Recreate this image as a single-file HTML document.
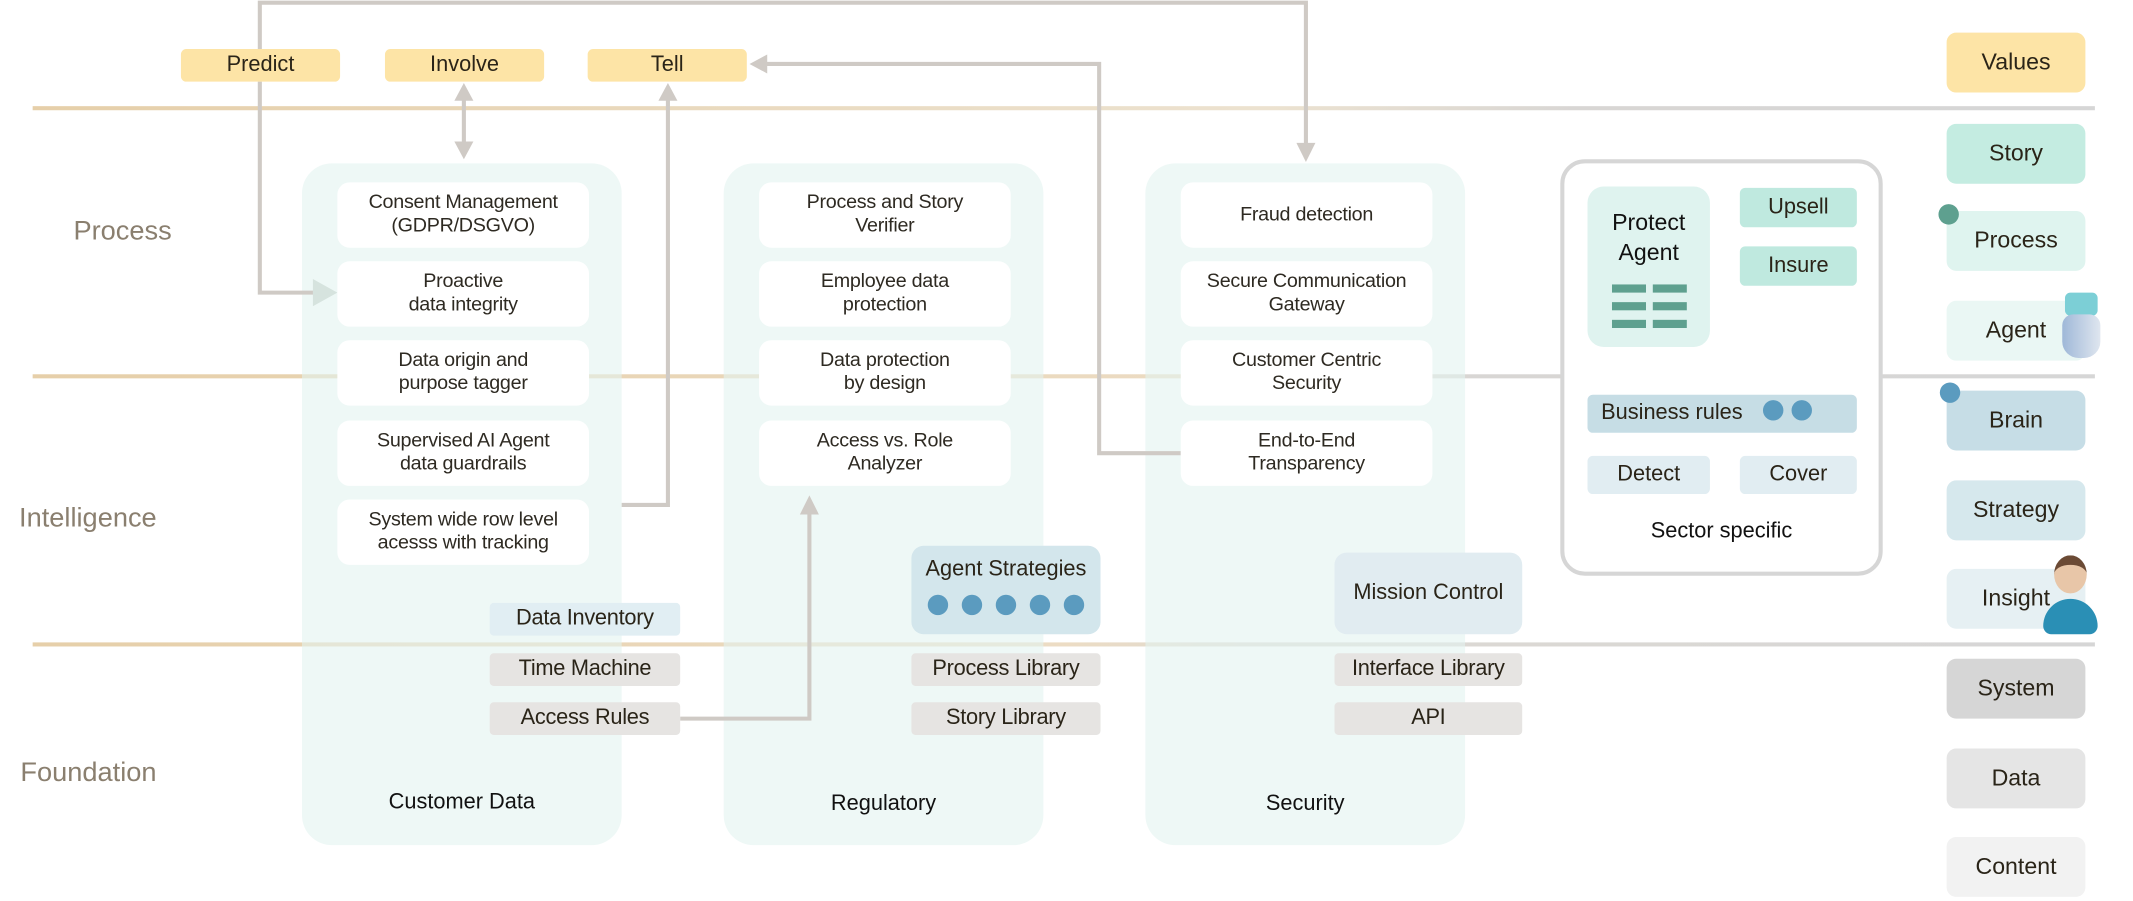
<!DOCTYPE html>
<html><head><meta charset="utf-8"><style>
html,body{margin:0;padding:0;background:#fff;}
body{width:2133px;height:901px;overflow:hidden;position:relative;}
#s{position:absolute;left:0;top:0;width:1568px;height:662px;transform:scale(1.36033,1.361);transform-origin:0 0;font-family:"Liberation Sans",sans-serif;color:#2a2418;}
.a{position:absolute;box-sizing:border-box;display:flex;align-items:center;justify-content:center;text-align:center;}
.hl{position:absolute;height:3px;}
.col{position:absolute;top:120px;width:235px;height:501px;background:rgba(226,244,240,0.6);border-radius:22px;}
.card{position:absolute;width:185px;height:48px;background:#fff;border-radius:9px;font-size:14.5px;line-height:17px;letter-spacing:-0.2px;color:#2e2a22;}
.lab{font-size:20px;color:#8a7f6f;}
.val{background:#fde4a6;border-radius:4px;font-size:16px;height:24px;width:117px;top:36px;}
.tag{width:140px;height:24px;border-radius:3px;font-size:16px;letter-spacing:-0.2px;}
.r{left:1431px;width:102px;height:44px;border-radius:7px;font-size:17px;}
.ttl{font-size:16px;color:#111;}
.dot{display:inline-block;width:15px;height:15px;border-radius:50%;background:#5b9bbf;margin:0 5px;}
</style></head><body><div id="s">

<div class="hl" style="left:24px;top:78px;width:1516px;background:linear-gradient(90deg,#e6cfa9,#ece2d0 60%,#d8d6d4 75%,#d6d6d6);"></div>
<div class="hl" style="left:24px;top:275px;width:1516px;background:linear-gradient(90deg,#e6cfa9,#ecdcc4 60%,#d8d6d4 70%,#d6d6d6);"></div>
<div class="hl" style="left:24px;top:472px;width:1516px;background:linear-gradient(90deg,#e6cfa9,#ecdcc4 50%,#ddd9d3 60%,#d6d6d6);"></div>

<div class="a lab" style="left:20px;top:158px;width:150px;height:24px;justify-content:flex-start;padding-left:34px;">Process</div>
<div class="a lab" style="left:14px;top:369px;width:150px;height:24px;justify-content:flex-start;">Intelligence</div>
<div class="a lab" style="left:15px;top:556px;width:150px;height:24px;justify-content:flex-start;">Foundation</div>

<div class="col" style="left:222px;"></div>
<div class="col" style="left:532px;"></div>
<div class="col" style="left:842px;"></div>

<svg style="position:absolute;left:0;top:0" width="1568" height="662">
<g fill="none" stroke="#cfcac5" stroke-width="3">
<polyline points="191,36 191,2 960,2 960,108"/>
<polyline points="191,60 191,215 232,215"/>
<line x1="341" y1="72" x2="341" y2="108"/>
<polyline points="457,371 491,371 491,70"/>
<polyline points="560,47 808,47 808,333 868,333"/>
<polyline points="500,528 595,528 595,375"/>
</g>
<g fill="#cfcac5">
<polygon points="953,105 967,105 960,119"/>
<polygon points="334,74 348,74 341,61"/>
<polygon points="334,104 348,104 341,117"/>
<polygon points="484,74 498,74 491,61"/>
<polygon points="564,40 564,54 551,47"/>
<polygon points="588,378 602,378 595,364"/>
</g>
<polygon points="230,205 230,225 248,215" fill="#d6e3de"/>
</svg>

<div class="a val" style="left:133px;">Predict</div>
<div class="a val" style="left:283px;">Involve</div>
<div class="a val" style="left:432px;">Tell</div>

<div class="a card" style="left:248px;top:134px;">Consent Management<br>(GDPR/DSGVO)</div>
<div class="a card" style="left:248px;top:192px;">Proactive<br>data integrity</div>
<div class="a card" style="left:248px;top:250px;">Data origin and<br>purpose tagger</div>
<div class="a card" style="left:248px;top:309px;">Supervised AI Agent<br>data guardrails</div>
<div class="a card" style="left:248px;top:367px;">System wide row level<br>acesss with tracking</div>

<div class="a card" style="left:558px;top:134px;">Process and Story<br>Verifier</div>
<div class="a card" style="left:558px;top:192px;">Employee data<br>protection</div>
<div class="a card" style="left:558px;top:250px;">Data protection<br>by design</div>
<div class="a card" style="left:558px;top:309px;">Access vs. Role<br>Analyzer</div>

<div class="a card" style="left:868px;top:134px;">Fraud detection</div>
<div class="a card" style="left:868px;top:192px;">Secure Communication<br>Gateway</div>
<div class="a card" style="left:868px;top:250px;">Customer Centric<br>Security</div>
<div class="a card" style="left:868px;top:309px;">End-to-End<br>Transparency</div>

<div class="a tag" style="left:360px;top:443px;background:#e1eef3;">Data Inventory</div>
<div class="a tag" style="left:360px;top:480px;background:#e6e4e2;">Time Machine</div>
<div class="a tag" style="left:360px;top:516px;background:#e6e4e2;">Access Rules</div>
<div class="a tag" style="left:670px;top:480px;width:139px;background:#e6e4e2;">Process Library</div>
<div class="a tag" style="left:670px;top:516px;width:139px;background:#e6e4e2;">Story Library</div>
<div class="a tag" style="left:981px;top:480px;width:138px;background:#e6e4e2;">Interface Library</div>
<div class="a tag" style="left:981px;top:516px;width:138px;background:#e6e4e2;">API</div>
<div class="a" style="left:670px;top:401px;width:139px;height:65px;background:#d3e6ec;border-radius:9px;flex-direction:column;font-size:16px;">
<div style="margin-bottom:9px;">Agent Strategies</div><div><span class="dot"></span><span class="dot"></span><span class="dot"></span><span class="dot"></span><span class="dot"></span></div></div>
<div class="a" style="left:981px;top:406px;width:138px;height:60px;background:#e1ecf1;border-radius:9px;font-size:16px;">Mission Control</div>

<div class="a ttl" style="left:222px;top:580px;width:235px;height:20px;">Customer Data</div>
<div class="a ttl" style="left:532px;top:581px;width:235px;height:20px;">Regulatory</div>
<div class="a ttl" style="left:842px;top:581px;width:235px;height:20px;">Security</div>

<div style="position:absolute;left:1147px;top:117px;width:237px;height:306px;box-sizing:border-box;border:3px solid #d6d6d6;border-radius:18px;background:#fff;"></div>
<div class="a" style="left:1167px;top:137px;width:90px;height:118px;background:#dff3ef;border-radius:12px;flex-direction:column;justify-content:flex-start;padding-top:16px;font-size:17px;line-height:22px;color:#111;">
<div>Protect<br>Agent</div>
<div style="margin-top:12px;display:grid;grid-template-columns:25px 25px;gap:7px 5px;">
<div style="height:6px;background:#5ea08f"></div><div style="height:6px;background:#5ea08f"></div>
<div style="height:6px;background:#5ea08f"></div><div style="height:6px;background:#5ea08f"></div>
<div style="height:6px;background:#5ea08f"></div><div style="height:6px;background:#5ea08f"></div></div></div>
<div class="a" style="left:1279px;top:138px;width:86px;height:29px;background:#bfe9df;border-radius:4px;font-size:16px;">Upsell</div>
<div class="a" style="left:1279px;top:181px;width:86px;height:29px;background:#bfe9df;border-radius:4px;font-size:16px;">Insure</div>
<div class="a" style="left:1167px;top:290px;width:198px;height:28px;background:#c6dde5;border-radius:4px;font-size:16px;justify-content:flex-start;padding-left:10px;">Business rules<span style="margin-left:12px"><span class="dot" style="margin:0 3px"></span><span class="dot" style="margin:0 3px"></span></span></div>
<div class="a" style="left:1167px;top:335px;width:90px;height:28px;background:#e1edf2;border-radius:4px;font-size:16px;">Detect</div>
<div class="a" style="left:1279px;top:335px;width:86px;height:28px;background:#e1edf2;border-radius:4px;font-size:16px;">Cover</div>
<div class="a ttl" style="left:1147px;top:381px;width:237px;height:20px;">Sector specific</div>

<div class="a r" style="top:24px;background:#fde4a6;">Values</div>
<div class="a r" style="top:91px;background:#c4ece1;">Story</div>
<div class="a r" style="top:155px;background:#dff4ef;">Process</div>
<div class="a r" style="top:221px;background:#eaf7f4;">Agent</div>
<div class="a r" style="top:287px;background:#c6dde6;">Brain</div>
<div class="a r" style="top:353px;background:#d6e8ed;">Strategy</div>
<div class="a r" style="top:418px;background:#e6f0f3;">Insight</div>
<div class="a r" style="top:484px;background:#d6d6d6;">System</div>
<div class="a r" style="top:550px;background:#e5e5e5;">Data</div>
<div class="a r" style="top:615px;background:#f2f2f2;">Content</div>
<div style="position:absolute;left:1425px;top:150px;width:15px;height:15px;border-radius:50%;background:#5ea08f"></div>
<div style="position:absolute;left:1426px;top:281px;width:15px;height:15px;border-radius:50%;background:#5b9bbf"></div>
<div style="position:absolute;left:1518px;top:215px;width:24px;height:17px;border-radius:4px;background:#7ccfd6;"></div>
<div style="position:absolute;left:1516px;top:231px;width:28px;height:32px;border-radius:8px 8px 12px 12px;background:linear-gradient(90deg,#9fb8d8,#dfe6ef);"></div>
<div style="position:absolute;left:1510px;top:408px;width:24px;height:28px;border-radius:50%;background:#e8c6a8;border-top:7px solid #6b4a35;box-sizing:border-box;"></div>
<div style="position:absolute;left:1502px;top:440px;width:40px;height:26px;border-radius:20px 20px 6px 6px;background:#2a8fb5;"></div>

</div></body></html>
